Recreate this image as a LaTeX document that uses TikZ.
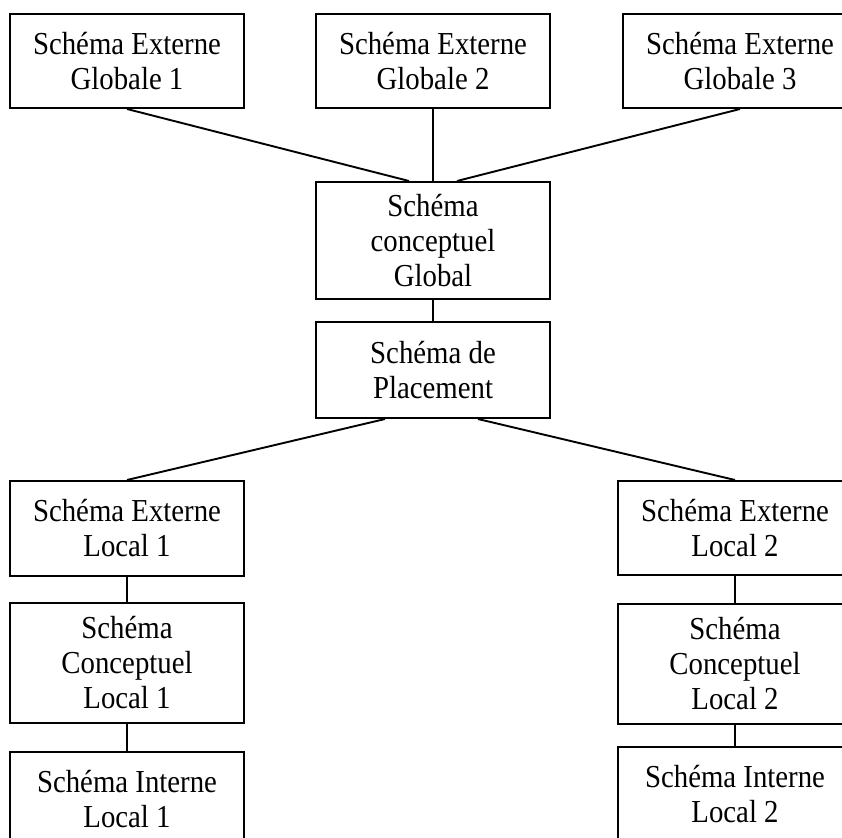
\documentclass[tikz,border=0pt]{standalone}
\usepackage{fontspec}
\setmainfont[FakeStretch=0.9]{Liberation Serif}
\usepackage{tikz}
\usetikzlibrary{positioning}
\tikzset{
  schbox/.style={rectangle, draw=black, fill=white, line width=2pt, align=center,
                 minimum width=234pt, inner sep=2pt, font=\fontsize{32}{35}\selectfont},
  link/.style={draw=black, line width=1.9pt},
  vlink/.style={draw=black, line width=1.2pt},
}

\begin{document}
\begin{tikzpicture}[x=1pt, y=-1pt]
\fill[white] (0,0) rectangle (842,837);
\useasboundingbox (0,0) rectangle (842,837);
\clip (0,0) rectangle (842,837);
% niveau global
\node[schbox, minimum height=94pt] (g1) at (127,61) {Schéma Externe\\Globale 1};
\node[schbox, minimum height=94pt, right=70pt of g1] (g2) {Schéma Externe\\Globale 2};
\node[schbox, minimum height=94pt, right=71pt of g2] (g3) {Schéma Externe\\Globale 3};
\node[schbox, minimum height=117pt, below=72pt of g2] (cg) {Schéma\\conceptuel\\Global};
\node[schbox, minimum height=96pt, below=21pt of cg] (pl) {Schéma de\\Placement};
% site 1
\node[schbox, minimum height=95pt] (el1) at (127,528.5) {Schéma Externe\\Local 1};
\node[schbox, minimum height=120pt, below=25pt of el1] (cl1) {Schéma\\Conceptuel\\Local 1};
\node[schbox, minimum height=95pt, below=27pt of cl1] (il1) {Schéma Interne\\Local 1};
% site 2
\node[schbox, minimum height=94pt] (el2) at (735,528) {Schéma Externe\\Local 2};
\node[schbox, minimum height=120pt, below=27pt of el2] (cl2) {Schéma\\Conceptuel\\Local 2};
\node[schbox, minimum height=95pt, below=21pt of cl2] (il2) {Schéma Interne\\Local 2};
% liens
\draw[link] (g1.south) -- ([xshift=-24pt]cg.north);
\draw[vlink] (g2) -- (cg);
\draw[link] (g3.south) -- ([xshift=24pt]cg.north);
\draw[vlink] (cg) -- (pl);
\draw[link] ([xshift=-48pt]pl.south) -- (el1.north);
\draw[link] ([xshift=45pt]pl.south) -- (el2.north);
\draw[vlink] (el1) -- (cl1);
\draw[vlink] (cl1) -- (il1);
\draw[vlink] (el2) -- (cl2);
\draw[vlink] (cl2) -- (il2);
\end{tikzpicture}
\end{document}
